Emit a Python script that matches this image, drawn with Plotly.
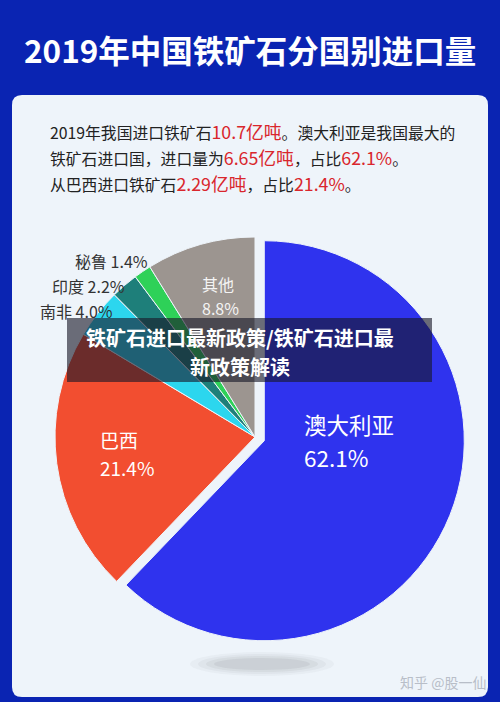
import plotly.graph_objects as go

W, H = 500, 702

# Data
countries = ["澳大利亚", "巴西", "南非", "印度", "秘鲁", "其他"]
shares = [62.1, 21.4, 4.0, 2.2, 1.4, 8.8]
colors = ["#2F33EE", "#F24E30", "#2CD6EE", "#1E7F7A", "#2ED158", "#9C9590"]
pulls = [0.05, 0, 0, 0, 0, 0]

title = "2019年中国铁矿石分国别进口量"
total_import = "10.7亿吨"
aus_import = "6.65亿吨"
bra_import = "2.29亿吨"


def px(x):
    return x / W


def py(y):
    return 1 - y / H


fig = go.Figure()

# pie centre (255, 437), radius 200 with 5% pull headroom
R = 200 * 1.05
cx, cy = 255, 437
fig.add_trace(go.Pie(
    labels=countries, values=shares, sort=False, direction="clockwise",
    rotation=0, pull=pulls, textinfo="none", hoverinfo="label+percent",
    marker=dict(colors=colors, line=dict(color="#EEF4FA", width=1)),
    domain=dict(x=[px(cx - R), px(cx + R)], y=[py(cy + R), py(cy - R)]),
    showlegend=False,
))

shapes = []
# panel rounded rectangle
x0, x1, y0, y1, r = 12, 488, 95, 697, 10
path = (f"M {px(x0 + r)} {py(y0)} L {px(x1 - r)} {py(y0)} Q {px(x1)} {py(y0)} {px(x1)} {py(y0 + r)} "
        f"L {px(x1)} {py(y1 - r)} Q {px(x1)} {py(y1)} {px(x1 - r)} {py(y1)} "
        f"L {px(x0 + r)} {py(y1)} Q {px(x0)} {py(y1)} {px(x0)} {py(y1 - r)} "
        f"L {px(x0)} {py(y0 + r)} Q {px(x0)} {py(y0)} {px(x0 + r)} {py(y0)} Z")
shapes.append(dict(type="path", xref="paper", yref="paper", path=path,
                   fillcolor="#EEF4FA", line=dict(width=0), layer="below"))
# soft shadow under pie
for w, h, op in [(72, 12, 0.05), (64, 10, 0.06), (56, 8, 0.08), (48, 6, 0.10)]:
    shapes.append(dict(type="circle", xref="paper", yref="paper",
                       x0=px(262 - w), x1=px(262 + w), y0=py(664 + h), y1=py(664 - h),
                       fillcolor=f"rgba(110,110,120,{op})", line=dict(width=0), layer="below"))
# watermark band
shapes.append(dict(type="rect", xref="paper", yref="paper",
                   x0=px(67), x1=px(432), y0=py(382), y1=py(318),
                   fillcolor="rgba(25,25,40,0.62)", line=dict(width=0), layer="above"))

FONT = "Noto Sans CJK SC"
RED = "#D9262C"
ann = []


def add(text, x, y, size, color, xanchor="center", bold=False, yanchor="middle", align="left"):
    ann.append(dict(text=f"<b>{text}</b>" if bold else text, x=px(x), y=py(y),
                    xref="paper", yref="paper", showarrow=False,
                    xanchor=xanchor, yanchor=yanchor, borderpad=0,
                    font=dict(family=FONT, size=size, color=color), align=align))


add(title, 250, 49, 31.5, "white", bold=True)


def red(t):
    return f'<span style="color:{RED};font-size:17.8px">{t}</span>'


add(f"2019年我国进口铁矿石{red(total_import)}。澳大利亚是我国最大的", 49, 131, 15.8, "#222222", xanchor="left")
add(f"铁矿石进口国，进口量为{red(aus_import)}，占比{red('62.1%')}。", 49, 157, 15.8, "#222222", xanchor="left")
add(f"从巴西进口铁矿石{red(bra_import)}，占比{red('21.4%')}。", 49, 183, 15.8, "#222222", xanchor="left")

# slice labels
add(f"秘鲁 {shares[4]}%", 149, 261, 16, "#333333", xanchor="right")
add(f"印度 {shares[3]}%", 126, 286, 16, "#333333", xanchor="right")
add(f"南非 {shares[2]}%", 114, 310.5, 16, "#333333", xanchor="right")
add(countries[5], 201, 284, 16, "#F4F4F4", xanchor="left")
add(f"{shares[5]}%", 201, 308, 16, "#F4F4F4", xanchor="left")
add(countries[1], 99, 439, 19, "white", xanchor="left")
add(f"{shares[1]}%", 99, 467, 19, "white", xanchor="left")
add(countries[0], 303, 424, 22.5, "white", xanchor="left")
add(f"{shares[0]}%", 303, 457, 22.5, "white", xanchor="left")

# overlay text
add("铁矿石进口最新政策/铁矿石进口最", 240, 337, 20, "white", bold=True)
add("新政策解读", 240, 366, 20, "white", bold=True)

add("知乎 @股一仙", 487, 682, 14, "#B8BEC8", xanchor="right")

fig.update_layout(width=W, height=H, margin=dict(l=0, r=0, t=0, b=0),
                  paper_bgcolor="#0A24B2", plot_bgcolor="#0A24B2",
                  shapes=shapes, annotations=ann)

fig.write_html("out.html", config={"displayModeBar": False},
               post_script="document.body.style.margin='0';document.body.style.background='#0A24B2';")
